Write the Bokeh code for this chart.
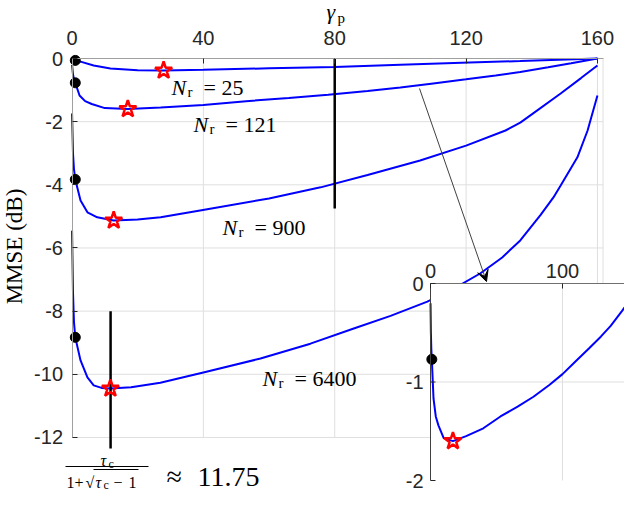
import math
from bokeh.plotting import figure
from bokeh.models import Range1d, FixedTicker, Arrow, VeeHead
from bokeh.core.properties import value
from bokeh.embed import file_html
from bokeh.resources import INLINE

# ---------------- data ----------------
x_ticks = [0, 40, 80, 120, 160]
x_tick_labels = ["0", "40", "80", "120", "160"]
y_ticks = [0, -2, -4, -6, -8, -10, -12]
y_tick_labels = ["0", "-2", "-4", "-6", "-8", "-10", "-12"]
x_max = 161.7

x_25 = [0.02, 1, 2.6, 6.6, 11.7, 20, 27.9, 40, 60, 80, 100, 121, 136.5, 160]
y_25 = [-0.01, -0.06, -0.1, -0.22, -0.32, -0.37, -0.38, -0.36, -0.31, -0.27, -0.2, -0.13, -0.08, 0.0]

x_121 = [0.02, 0.3, 0.6, 1, 2.3, 4, 6, 10, 17, 27, 40, 53, 66, 78, 90, 100, 110, 120, 129, 136.5, 145, 152, 160]
y_121 = [-0.2, -0.5, -0.66, -0.77, -1.17, -1.35, -1.44, -1.57, -1.6, -1.55, -1.47, -1.35, -1.25, -1.15, -1.03,
         -0.92, -0.79, -0.66, -0.54, -0.43, -0.28, -0.15, 0.0]

x_900 = [0.02, 0.3, 0.6, 1, 2.6, 4.7, 7.7, 12.7, 20, 27, 39, 60, 75.7, 90, 106, 120, 132, 136.5, 140, 148.8,
         155, 160]
y_900 = [-1.74, -3.0, -3.5, -3.83, -4.5, -4.87, -5.03, -5.13, -5.1, -5.03, -4.81, -4.43, -4.08, -3.69, -3.23,
         -2.76, -2.28, -2.03, -1.77, -1.11, -0.62, -0.22]

x_6400 = [0.02, 0.3, 0.6, 1, 2.6, 4.7, 6.6, 9, 11.7, 18, 26.9, 40, 57.4, 72.6, 85.8, 97, 108.2, 116, 124.4,
          131, 136.5, 142.7, 146.6, 148.8, 153.9, 157, 160]
y_6400 = [-5.45, -7.4, -8.35, -8.83, -9.56, -10.1, -10.35, -10.43, -10.45, -10.41, -10.27, -9.94, -9.5, -9.03,
          -8.55, -8.15, -7.7, -7.3, -6.8, -6.3, -5.76, -4.95, -4.4, -4.02, -3.13, -2.28, -1.17]

nr_values = ["25", "121", "900", "6400"]
dot_x = [1, 1, 1, 1]
dot_y = [-0.06, -0.77, -3.83, -8.83]
star_x = [27.9, 17, 12.7, 11.7]
star_y = [-0.38, -1.6, -5.13, -10.45]

vline_x = [80, 11.75]
vline_top = [0, -8]
vline_bottom = [-4.75, -12.35]

inset_x_ticks = [0, 100]
inset_x_tick_labels = ["0", "100"]
inset_y_ticks = [0, -1, -2]
inset_y_tick_labels = ["0", "-1", "-2"]
inset_x_max = 160

# ---------------- layout (pixels) ----------------
W, H = 624, 493
X0_PX, Y0_PX = 71.5, 58.0   # pixel position of the data origin (0, 0)
PX_X = 3.284                # px per x unit (main)
PX_Y = 31.58                # px per y unit (main)


def dx(px):
    return (px - X0_PX) / PX_X


def dy(py):
    return -(py - Y0_PX) / PX_Y


BLUE = "#0000ff"
AX_TXT = "#262626"
GRID = "#dfdfdf"
SANS = "Liberation Sans"
SERIF = "Liberation Serif"

p = figure(width=W, height=H, x_range=Range1d(dx(0), dx(W)), y_range=Range1d(dy(H), dy(0)),
           output_backend="svg", toolbar_location=None, x_axis_location="above", min_border=0)
p.outline_line_color = None
p.grid.visible = False
p.background_fill_color = "white"
p.border_fill_color = "white"

for ax, ticks, labels, bounds in ((p.xaxis[0], x_ticks, x_tick_labels, (0, x_max)),
                                  (p.yaxis[0], y_ticks, y_tick_labels, (min(y_ticks), max(y_ticks)))):
    ax.fixed_location = 0
    ax.ticker = FixedTicker(ticks=ticks)
    ax.major_label_overrides = {t: s for t, s in zip(ticks, labels)}
    ax.bounds = bounds
    ax.major_tick_in = 5
    ax.major_tick_out = 0
    ax.minor_tick_line_color = None
    ax.axis_line_color = "#a0a0a0"
    ax.major_tick_line_color = AX_TXT
    ax.major_label_text_font = SANS
    ax.major_label_text_font_size = "20px"
    ax.major_label_text_color = AX_TXT
p.xaxis.major_label_standoff = 14
p.yaxis.major_label_standoff = 9

# grid lines of the main axes
gx = [t for t in x_ticks if t != 0] + [x_max]
p.segment(x0=gx, y0=[0] * len(gx), x1=gx, y1=[min(y_ticks)] * len(gx), line_color=GRID, line_width=1)
gy = [t for t in y_ticks if t != 0]
p.segment(x0=[0] * len(gy), y0=gy, x1=[x_max] * len(gy), y1=gy, line_color=GRID, line_width=1)

# curves
for xs, ys in ((x_25, y_25), (x_121, y_121), (x_900, y_900), (x_6400, y_6400)):
    p.line(xs, ys, line_color=BLUE, line_width=2)

p.segment(x0=vline_x, y0=vline_top, x1=vline_x, y1=vline_bottom, line_color="black", line_width=2.5)
p.scatter(dot_x, dot_y, size=10, marker="circle", fill_color="black", line_color="black")
p.scatter(star_x, star_y, size=18, marker="star", fill_color=None, line_color="red", line_width=2.5)


def t(xp, yp, s, size, italic=False, angle=0.0, align="left", baseline="alphabetic", color="black",
      font=SERIF):
    p.text(x=[dx(xp)], y=[dy(yp)], text=[s], text_font=value(font),
           text_font_style="italic" if italic else "normal", angle=angle,
           text_font_size=size, text_baseline=baseline, text_align=align, text_color=color)


# N_r labels (left edge of N, baseline)
label_pos = [(171, 87), (193, 124), (222, 227), (262, 378)]
for (lx, ly), nr in zip(label_pos, nr_values):
    t(lx, ly, "N", "22px", True)
    t(lx + 16, ly + 4, "r", "15px")
    t(lx + 32, ly, "= " + nr, "22px")

# axis titles
t(14, 246, "MMSE (dB)", "23px", angle=math.pi / 2, align="center", baseline="middle")
t(326, 11, "γ", "22px", True)
t(337, 17, "p", "15px")

# formula below the plot
t(100, 460, "τ", "16px", True)
t(108, 463, "c", "12px")
p.segment(x0=[dx(65)], y0=[dy(466)], x1=[dx(148)], y1=[dy(466)], line_color="black", line_width=1.2)
t(66, 482, "1+", "16px")
t(85, 482, "√", "16px")
t(95, 482, "τ", "16px", True)
t(103, 484, "c", "12px")
t(113, 482, "−", "16px")
t(128, 482, "1", "16px")
p.segment(x0=[dx(93)], y0=[dy(469)], x1=[dx(138)], y1=[dy(469)], line_color="black", line_width=1)
t(166, 476, "≈", "28px")
t(197, 476, "11.75", "28px")

# ---------------- inset (zoom of N_r = 121) ----------------
IN_LEFT, IN_TOP = 430, 283
IPX_X = 1.32   # px per inset x unit
IPX_Y = 98.5   # px per inset y unit
ins = p.subplot(x_source=Range1d(0, 100), y_source=Range1d(-2, 0),
                x_target=Range1d(dx(IN_LEFT), dx(IN_LEFT + 100 * IPX_X)),
                y_target=Range1d(dy(IN_TOP + 2 * IPX_Y), dy(IN_TOP)))
ymin_in = min(inset_y_ticks)
ins.quad(left=[0], right=[inset_x_max], bottom=[ymin_in], top=[0], fill_color="white", line_color=None)
igx = [v for v in inset_x_ticks if v != 0]
ins.segment(x0=igx, y0=[0] * len(igx), x1=igx, y1=[ymin_in] * len(igx), line_color=GRID)
igy = [v for v in inset_y_ticks if v not in (0, ymin_in)]
ins.segment(x0=[0] * len(igy), y0=igy, x1=[inset_x_max] * len(igy), y1=igy, line_color=GRID)
ins.line(x_121, y_121, line_color=BLUE, line_width=2)
ins.scatter([dot_x[1]], [dot_y[1]], size=10, marker="circle", fill_color="black", line_color="black")
ins.scatter([star_x[1]], [star_y[1]], size=18, marker="star", fill_color=None, line_color="red",
            line_width=2.5)
ins.segment(x0=[0], y0=[0], x1=[inset_x_max], y1=[0], line_color="#707070", line_width=1)
ins.segment(x0=[0], y0=[0], x1=[0], y1=[ymin_in], line_color="#404040", line_width=1)
TICK = 5
nxt, nyt = len(inset_x_ticks), len(inset_y_ticks)
ins.segment(x0=inset_x_ticks, y0=[0] * nxt, x1=inset_x_ticks, y1=[-TICK / IPX_Y] * nxt, line_color=AX_TXT)
ins.segment(x0=[0] * nyt, y0=inset_y_ticks, x1=[TICK / IPX_X] * nyt, y1=inset_y_ticks, line_color=AX_TXT)
ins.text(x=inset_x_ticks, y=[13 / IPX_Y] * nxt, text=inset_x_tick_labels, text_font=value(SANS),
         text_font_size="20px", text_align="center", text_baseline="alphabetic", text_color=AX_TXT)
ins.text(x=[-7 / IPX_X] * nyt, y=inset_y_ticks, text=inset_y_tick_labels, text_font=value(SANS),
         text_font_size="20px", text_align="right", text_baseline="middle", text_color=AX_TXT)

# arrow from the main N_r = 121 curve to the inset
p.add_layout(Arrow(x_start=dx(419), y_start=dy(88), x_end=dx(486), y_end=dy(IN_TOP - 2),
                   line_color="#404040", line_width=1,
                   end=VeeHead(size=11, fill_color="black", line_color="black", line_width=1)))

open("out.html", "w").write(file_html(p, INLINE))
